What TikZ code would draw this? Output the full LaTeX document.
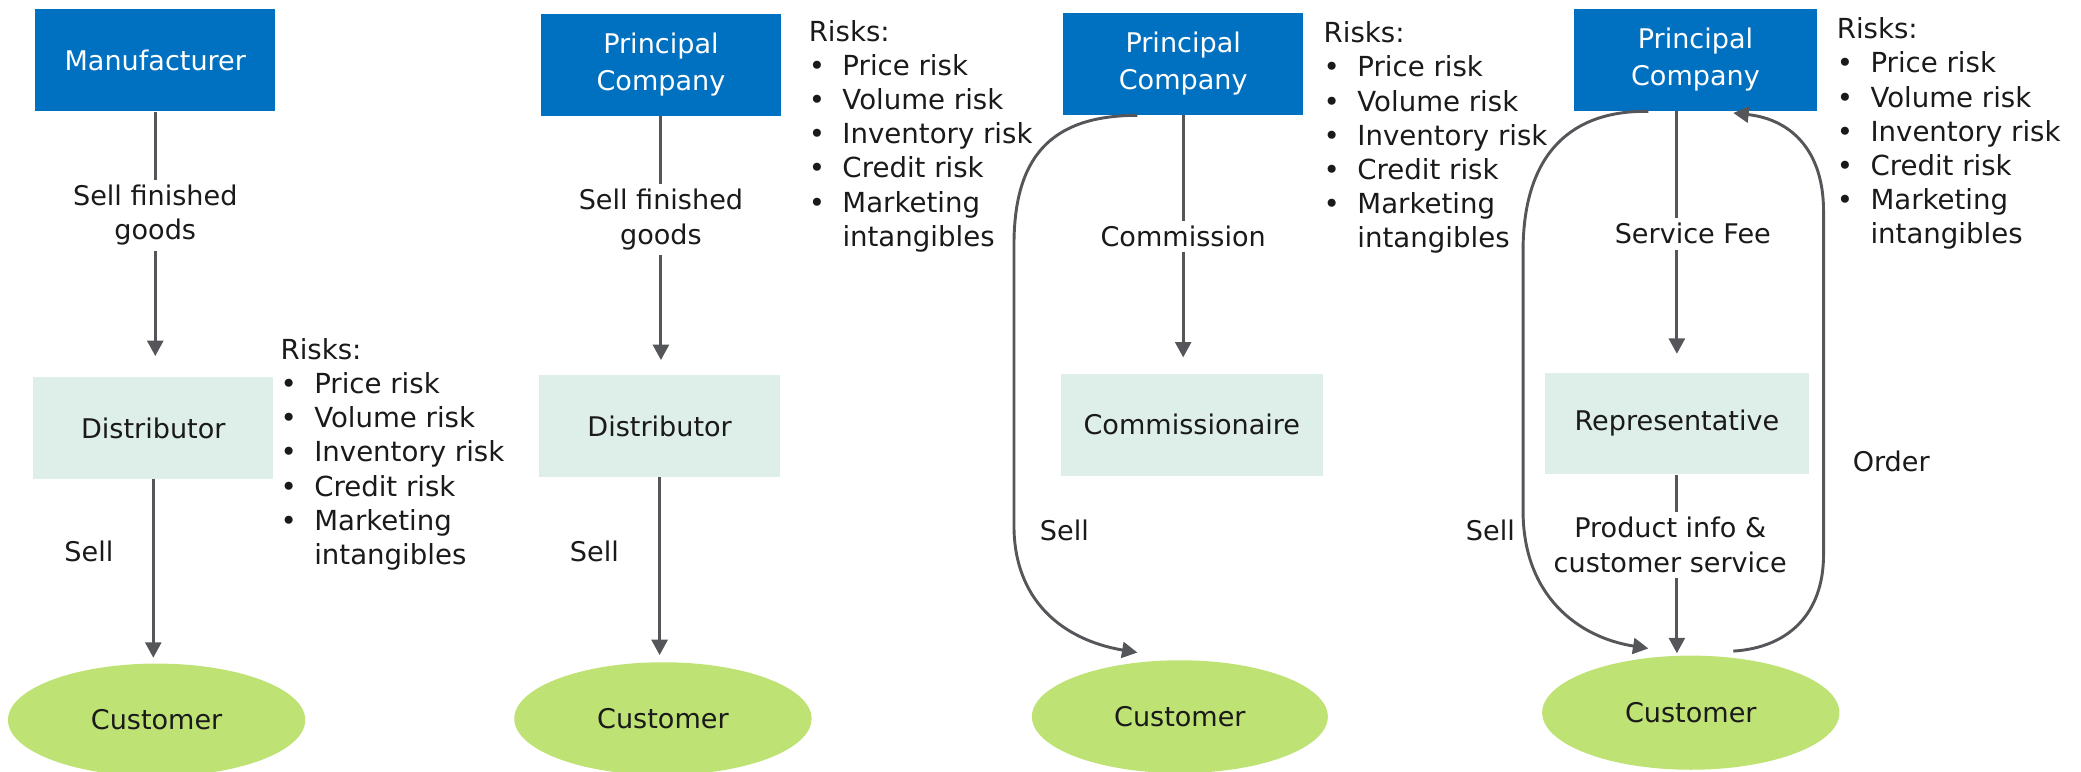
\documentclass[tikz,border=0pt]{standalone}
\usepackage{fontspec}
\setmainfont{DejaVu Sans}
\usetikzlibrary{arrows.meta,shapes.geometric,calc}
\definecolor{pblue}{HTML}{0070C0}
\definecolor{pteal}{HTML}{DEEEE8}
\definecolor{pgreen}{HTML}{BEE274}
\definecolor{parrow}{HTML}{55565A}
\definecolor{ptext}{HTML}{1A1A1A}
\newcommand{\riskitem}[1]{\makebox[12.7pt][l]{\textbullet}#1}
\newcommand{\risklist}{%
  \begin{tabular}[t]{@{}l@{}}
  Risks:\\
  \riskitem{Price risk}\\
  \riskitem{Volume risk}\\
  \riskitem{Inventory risk}\\
  \riskitem{Credit risk}\\
  \riskitem{Marketing}\\
  \hspace*{12.7pt}intangibles
  \end{tabular}}
\begin{document}
\begin{tikzpicture}[x=0.5pt,y=-0.5pt,
  every node/.style={font=\fontsize{10.2}{13}\selectfont, text=ptext},
  topbox/.style={fill=pblue, text=white, minimum height=38.5pt, align=center, inner sep=0pt,
                 font=\fontsize{10.2}{13.7}\selectfont},
  midbox/.style={fill=pteal, minimum height=38.3pt, inner sep=0pt},
  custnode/.style={ellipse, fill=pgreen, minimum width=112pt, minimum height=42.5pt, inner sep=0pt},
  flow/.style={draw=parrow, line width=1.1pt, -{Triangle[width=6pt,length=5.8pt]}},
  lbl/.style={fill=white, align=center, inner sep=2pt},
  sidelbl/.style={inner sep=0pt},
  risks/.style={anchor=base west, inner sep=0pt, font=\fontsize{10.4}{12.85}\selectfont}
]
\useasboundingbox (0,0) rectangle (1568,581);

% ---------- column 1 ----------
\node[topbox, minimum width=90.5pt] (man) at (117,45.5) {Manufacturer};
\node[midbox, minimum width=90.5pt] (dist1) at (115.5,322.5) {Distributor};
\node[custnode] (cust1) at (118,542.5) {Customer};
\draw[flow, shorten >=7.75pt] (man.south) -- (man.south |- dist1.north)
  node[lbl, pos=0.39] {Sell finished\\goods};
\draw[flow, shorten >=2pt] (dist1.south) -- (dist1.south |- cust1.north)
  node[sidelbl, pos=0.39, left=14.5pt] {Sell};
\node[risks] (risk1) at (211,271) {\risklist};

% ---------- column 2 ----------
\node[topbox, minimum width=90.7pt] (pc2) at (498,48.7) {Principal\\Company};
\node[midbox, minimum width=91pt] (dist2) at (497,321) {Distributor};
\node[custnode] (cust2) at (499.5,541.5) {Customer};
\draw[flow, shorten >=5.5pt] (pc2.south) -- (pc2.south |- dist2.north)
  node[lbl, pos=0.40] {Sell finished\\goods};
\draw[flow, shorten >=2.5pt] (dist2.south) -- (dist2.south |- cust2.north)
  node[sidelbl, pos=0.40, left=14.8pt] {Sell};
\node[risks] (risk2) at (609,31.3) {\risklist};

% ---------- column 3 ----------
\node[topbox, minimum width=90.5pt] (pc3) at (891.5,48) {Principal\\Company};
\node[midbox, minimum width=98.75pt] (comm) at (898,320) {Commissionaire};
\node[custnode, minimum width=111.5pt] (cust3) at (889,540) {Customer};
\draw[flow, shorten >=6pt] (pc3.south) -- (pc3.south |- comm.north)
  node[lbl, pos=0.47] {Commission};
\coordinate (s3a) at ([xshift=-17.25pt]pc3.south);
\coordinate (s3b) at ([xshift=-16pt,yshift=2.7pt]cust3.north);
\draw[flow] (s3a) .. controls (790,87) and (764,120) .. (764,185)
  -- (764,396) .. controls (764,452) and (800,482) .. (s3b);
\node[sidelbl] (sell3) at (802,400) {Sell};
\node[risks] (risk3) at (997,32.3) {\risklist};

% ---------- column 4 ----------
\node[topbox, minimum width=91.5pt] (pc4) at (1277.5,45) {Principal\\Company};
\node[midbox, minimum width=99.5pt] (rep) at (1263.5,319) {Representative};
\node[custnode, minimum height=43pt] (cust4) at (1274,537) {Customer};
\draw[flow, shorten >=6.85pt] (pc4.south -| rep.north) -- (rep.north)
  node[lbl, pos=0.47, xshift=6pt] {Service Fee};
\draw[flow, shorten >=0.7pt] (rep.south) -- (rep.south |- cust4.north)
  node[lbl, pos=0.39, xshift=-2.5pt] {Product info \&\\customer service};
\coordinate (s4a) at ([xshift=-17.75pt]pc4.south);
\coordinate (s4b) at ([xshift=-16pt,yshift=2.5pt]cust4.north);
\draw[flow] (s4a) .. controls (1180,83) and (1147.6,120) .. (1147.6,189)
  -- (1147.6,385) .. controls (1147.6,448) and (1188,480) .. (s4b);
\coordinate (o4a) at ([xshift=16pt,yshift=1.5pt]cust4.north);
\coordinate (o4b) at ([xshift=14.25pt,yshift=-0.6pt]pc4.south);
\draw[flow] (o4a) .. controls (1348,488) and (1374,462) .. (1374,418)
  -- (1374,159) .. controls (1374,114) and (1350,90) .. (o4b);
\node[sidelbl] (sell4) at (1123,400) {Sell};
\node[sidelbl] (order4) at (1425,348) {Order};
\node[risks] (risk4) at (1383.6,29.3) {\risklist};
\end{tikzpicture}
\end{document}
